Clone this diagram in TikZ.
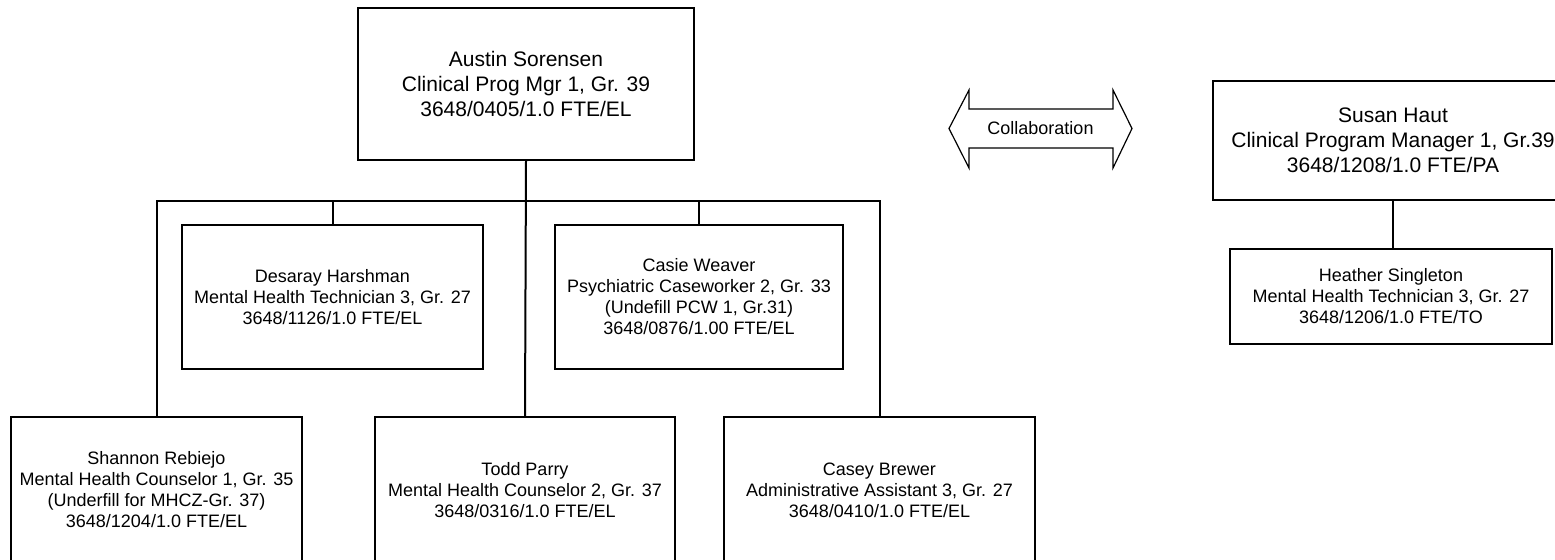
\documentclass[tikz,border=0pt]{standalone}
\usepackage{fontspec}
\setmainfont{Liberation Sans}
\usetikzlibrary{calc}

\tikzset{
  mgrbox/.style={draw, line width=1pt, align=center, inner sep=0pt,
    font=\fontsize{10.5}{12.5}\selectfont},
  staffbox/.style={draw, line width=1pt, align=center, inner sep=0pt,
    font=\fontsize{9}{10.5}\selectfont},
  link/.style={line width=1pt},
}

\begin{document}
\begin{tikzpicture}[line cap=rect, line join=miter, x=0.5pt, y=-0.5pt]
  \useasboundingbox (0,0) rectangle (1555,559);
  \clip (0,0) rectangle (1555,559);

  % managers
  \node[mgrbox, minimum width=168pt, minimum height=76pt] (austin) at (526,84)
    {Austin Sorensen\\Clinical Prog Mgr 1, Gr. 39\\3648/0405/1.0 FTE/EL};
  \node[mgrbox, minimum width=180pt, minimum height=59.5pt] (susan) at (1393,140.5)
    {Susan Haut\\Clinical Program Manager 1, Gr.39\\3648/1208/1.0 FTE/PA};

  % first row
  \node[staffbox, minimum width=150.5pt, minimum height=72pt] (desaray) at (332.5,297)
    {Desaray Harshman\\Mental Health Technician 3, Gr. 27\\3648/1126/1.0 FTE/EL};
  \node[staffbox, minimum width=144pt, minimum height=72pt] (casie) at (699,297)
    {Casie Weaver\\Psychiatric Caseworker 2, Gr. 33\\(Undefill PCW 1, Gr.31)\\3648/0876/1.00 FTE/EL};
  \node[staffbox, minimum width=161pt, minimum height=47.5pt] (heather) at (1391,296.5)
    {Heather Singleton\\Mental Health Technician 3, Gr. 27\\3648/1206/1.0 FTE/TO};

  % second row (cut off at the bottom)
  \node[staffbox, minimum width=145.5pt, minimum height=73pt] (shannon) at (156.5,490)
    {Shannon Rebiejo\\Mental Health Counselor 1, Gr. 35\\(Underfill for MHCZ-Gr. 37)\\3648/1204/1.0 FTE/EL};
  \node[staffbox, minimum width=150pt, minimum height=73pt] (todd) at (525,490)
    {Todd Parry\\Mental Health Counselor 2, Gr. 37\\3648/0316/1.0 FTE/EL};
  \node[staffbox, minimum width=155.5pt, minimum height=73pt] (casey) at (879.5,490)
    {Casey Brewer\\Administrative Assistant 3, Gr. 27\\3648/0410/1.0 FTE/EL};

  % collaboration arrow
  \node[font=\fontsize{9}{10.5}\selectfont] (collab) at (1040.5,128.5) {Collaboration};
  \draw[line width=0.6pt] ($(collab)+(-91.5,0)$) -- ++(20,-38.5) -- ++(0,19)
    -- ++(144,0) -- ++(0,-19) -- ++(19,38.5) -- ++(-19,39.5) -- ++(0,-20)
    -- ++(-144,0) -- ++(0,20) -- cycle;

  % connectors
  \coordinate (bar) at (0,201);
  \draw[link] (austin.south) -- (todd.north);                      % trunk
  \draw[link] (shannon.north |- bar) -- (casey.north |- bar);      % bar
  \foreach \n in {shannon,desaray,casie,casey} {
    \draw[link] (\n.north) -- (\n.north |- bar);
  }
  \draw[link] (susan.south) -- (susan.south |- heather.north);
\end{tikzpicture}
\end{document}
